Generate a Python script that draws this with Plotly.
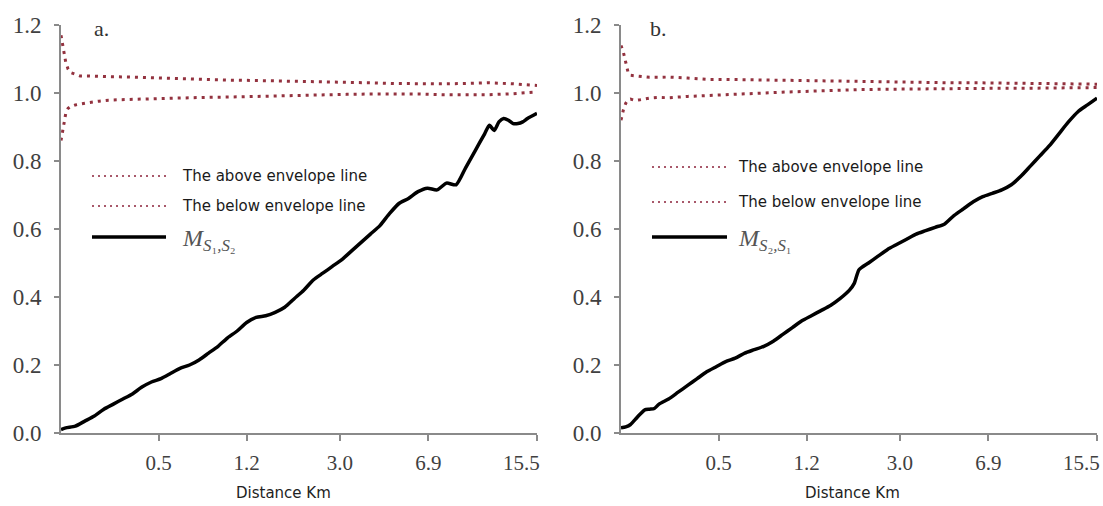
import plotly.graph_objects as go

# ---------------- data ----------------
# x positions are lag indices (0..100); tick labels give the distance in km
tick_pos = [20.5, 39, 58.6, 77.2, 100]
tick_text = ["0.5", "1.2", "3.0", "6.9", "15.5"]
y_ticks = [0.0, 0.2, 0.4, 0.6, 0.8, 1.0, 1.2]

env_x = [0, 0.5, 1, 1.5, 2, 3, 4, 6, 8, 10, 14, 18, 22, 26, 30, 35, 40, 45, 50,
         55, 60, 65, 70, 75, 80, 85, 90, 95, 100]

a_upper = [1.17, 1.13, 1.09, 1.07, 1.06, 1.055, 1.05, 1.05, 1.048, 1.048, 1.047,
           1.045, 1.044, 1.042, 1.04, 1.038, 1.037, 1.036, 1.035, 1.033, 1.032,
           1.03, 1.028, 1.027, 1.027, 1.028, 1.03, 1.027, 1.022]
a_lower = [0.86, 0.90, 0.94, 0.955, 0.96, 0.965, 0.968, 0.972, 0.976, 0.979, 0.981,
           0.983, 0.985, 0.986, 0.987, 0.988, 0.99, 0.991, 0.993, 0.995, 0.996,
           0.997, 0.998, 0.997, 0.995, 0.994, 0.995, 0.998, 1.003]

b_upper = [1.14, 1.12, 1.09, 1.06, 1.052, 1.05, 1.048, 1.046, 1.046, 1.047, 1.044,
           1.04, 1.04, 1.039, 1.038, 1.037, 1.036, 1.035, 1.034, 1.033, 1.032,
           1.031, 1.03, 1.03, 1.029, 1.029, 1.028, 1.027, 1.026]
b_lower = [0.92, 0.95, 0.97, 0.98, 0.982, 0.978, 0.98, 0.985, 0.987, 0.986, 0.99,
           0.993, 0.995, 0.997, 1.0, 1.003, 1.006, 1.008, 1.01, 1.011, 1.012,
           1.012, 1.013, 1.013, 1.014, 1.014, 1.015, 1.015, 1.016]

a_x = [0, 1, 3, 5, 7, 9, 11, 13, 15, 17, 19, 21, 23, 25, 27, 29, 31, 33, 35, 37,
       39, 41, 43, 45, 47, 49, 51, 53, 55, 57, 59, 61, 63, 65, 67, 69, 71, 73,
       75, 77, 79, 81, 83, 85, 87, 89, 90, 91, 92, 93, 94, 95, 96, 97, 98, 100]
a_m = [0.01, 0.015, 0.02, 0.035, 0.05, 0.07, 0.085, 0.10, 0.115, 0.135, 0.15,
       0.16, 0.175, 0.19, 0.20, 0.215, 0.235, 0.255, 0.28, 0.30, 0.325, 0.34,
       0.345, 0.355, 0.37, 0.395, 0.42, 0.45, 0.47, 0.49, 0.51, 0.535, 0.56,
       0.585, 0.61, 0.645, 0.675, 0.69, 0.71, 0.72, 0.715, 0.735, 0.73, 0.78,
       0.83, 0.88, 0.905, 0.89, 0.915, 0.925, 0.92, 0.91, 0.91, 0.915, 0.925,
       0.94]

b_x = [0, 1, 2, 3, 4, 5, 6, 7, 8, 10, 12, 14, 16, 18, 20, 22, 24, 26, 28, 30,
       32, 34, 36, 38, 40, 42, 44, 46, 48, 49, 50, 52, 54, 56, 58, 60, 62, 64,
       66, 68, 70, 72, 74, 76, 78, 80, 82, 84, 86, 88, 90, 92, 94, 96, 98, 100]
b_m = [0.015, 0.018, 0.025, 0.04, 0.055, 0.068, 0.07, 0.072, 0.085, 0.10, 0.12,
       0.14, 0.16, 0.18, 0.195, 0.21, 0.22, 0.235, 0.245, 0.255, 0.27, 0.29,
       0.31, 0.33, 0.345, 0.36, 0.375, 0.395, 0.42, 0.44, 0.48, 0.50, 0.52,
       0.54, 0.555, 0.57, 0.585, 0.595, 0.605, 0.615, 0.64, 0.66, 0.68, 0.695,
       0.705, 0.715, 0.73, 0.755, 0.785, 0.815, 0.845, 0.88, 0.915, 0.945,
       0.965, 0.985]

legend_names = ["The above envelope line", "The below envelope line"]

# ---------------- styles ----------------
W, H = 1103, 506
ENV_COLOR = "#93323f"
LEG_ENV_COLOR = "#a8586a"
AXIS_COLOR = "#8a8a8a"
SERIF = "Liberation Serif"
SANS = "DejaVu Sans"
NBSP = "\u00a0"

fig = go.Figure()

panels = [
    dict(xa="x", ya="y", up=a_upper, lo=a_lower, mx=a_x, my=a_m),
    dict(xa="x2", ya="y2", up=b_upper, lo=b_lower, mx=b_x, my=b_m),
]
for p in panels:
    for ys in (p["up"], p["lo"]):
        fig.add_trace(go.Scatter(x=env_x, y=ys, mode="lines", xaxis=p["xa"], yaxis=p["ya"],
                                 line=dict(color=ENV_COLOR, width=3, dash="3px,5px"),
                                 showlegend=False, hoverinfo="skip"))
    fig.add_trace(go.Scatter(x=p["mx"], y=p["my"], mode="lines", xaxis=p["xa"], yaxis=p["ya"],
                             line=dict(color="#000000", width=3.5, shape="spline", smoothing=0.6),
                             showlegend=False, hoverinfo="skip"))

x_dom = [[61 / W, 537 / W], [621 / W, 1097 / W]]
y_dom = [1 - 433 / H, 1 - 25 / H]

axis_common = dict(showgrid=False, zeroline=False, showline=True, linecolor=AXIS_COLOR,
                   linewidth=2, ticks="outside", tickcolor=AXIS_COLOR, tickwidth=2)

# last label sits to the left of its tick, as in the reference
x_ticktext = tick_text[:-1] + [tick_text[-1] + NBSP * 6]

layout = dict(
    width=W, height=H,
    margin=dict(l=0, r=0, t=0, b=0),
    paper_bgcolor="white", plot_bgcolor="white",
    showlegend=False,
)
for i, sfx in enumerate(["", "2"]):
    layout["xaxis" + sfx] = dict(
        axis_common, domain=x_dom[i], range=[0, 100], tickmode="array",
        tickvals=tick_pos, ticktext=x_ticktext, ticklen=6, ticklabelstandoff=4,
        ticklabeloverflow="allow",
        tickfont=dict(family=SERIF, size=21, color="#404040"),
        anchor="y" + sfx, automargin=False)
    layout["yaxis" + sfx] = dict(
        axis_common, domain=y_dom, range=[0, 1.2], tickmode="array",
        tickvals=y_ticks, ticktext=[f"{v:.1f}" for v in y_ticks], ticklen=5,
        ticklabelstandoff=8,
        tickfont=dict(family=SERIF, size=23, color="#404040"),
        anchor="x" + sfx, automargin=False)
fig.update_layout(**layout)

annotations = []
shapes = []

# axis titles
for cx in (283, 852):
    annotations.append(dict(x=cx / W, y=1 - 493 / H, xref="paper", yref="paper",
                            text="Distance Km", showarrow=False,
                            font=dict(family=SANS, size=15, color="#222222"),
                            xanchor="center", yanchor="middle"))

# panel letters
for lx, txt in ((92, "a."), (648, "b.")):
    annotations.append(dict(x=lx / W, y=1 - 28 / H, xref="paper", yref="paper",
                            text=txt, showarrow=False,
                            font=dict(family=SERIF, size=22, color="#333333"),
                            xanchor="left", yanchor="middle"))

# manual legends
leg_specs = [
    dict(x0=92, x1=166, tx=180, rows=[176, 206, 237],
         mlabel="<i>M</i><sub><i>S</i>\u2081<i>,S</i>\u2082</sub>"),
    dict(x0=652, x1=727, tx=736, rows=[167, 202, 237],
         mlabel="<i>M</i><sub><i>S</i>\u2082<i>,S</i>\u2081</sub>"),
]
for spec in leg_specs:
    for k in range(2):
        yy = 1 - spec["rows"][k] / H
        shapes.append(dict(type="line", xref="paper", yref="paper",
                           x0=spec["x0"] / W, x1=spec["x1"] / W, y0=yy, y1=yy,
                           line=dict(color=LEG_ENV_COLOR, width=2, dash="2px,4px")))
        annotations.append(dict(x=spec["tx"] / W, y=yy, xref="paper", yref="paper",
                                text=legend_names[k], showarrow=False,
                                font=dict(family=SANS, size=15, color="#1a1a1a"),
                                xanchor="left", yanchor="middle"))
    yy = 1 - spec["rows"][2] / H
    shapes.append(dict(type="line", xref="paper", yref="paper",
                       x0=spec["x0"] / W, x1=spec["x1"] / W, y0=yy, y1=yy,
                       line=dict(color="#000000", width=3.5)))
    annotations.append(dict(x=spec["tx"] / W, y=1 - (spec["rows"][2] + 3) / H,
                            xref="paper", yref="paper",
                            text=spec["mlabel"], showarrow=False,
                            font=dict(family=SERIF, size=24, color="#555555"),
                            xanchor="left", yanchor="middle"))

fig.update_layout(annotations=annotations, shapes=shapes)
fig.write_html("out.html", config={"displayModeBar": False},
               post_script="document.body.style.margin='0';document.body.style.overflow='hidden';")
